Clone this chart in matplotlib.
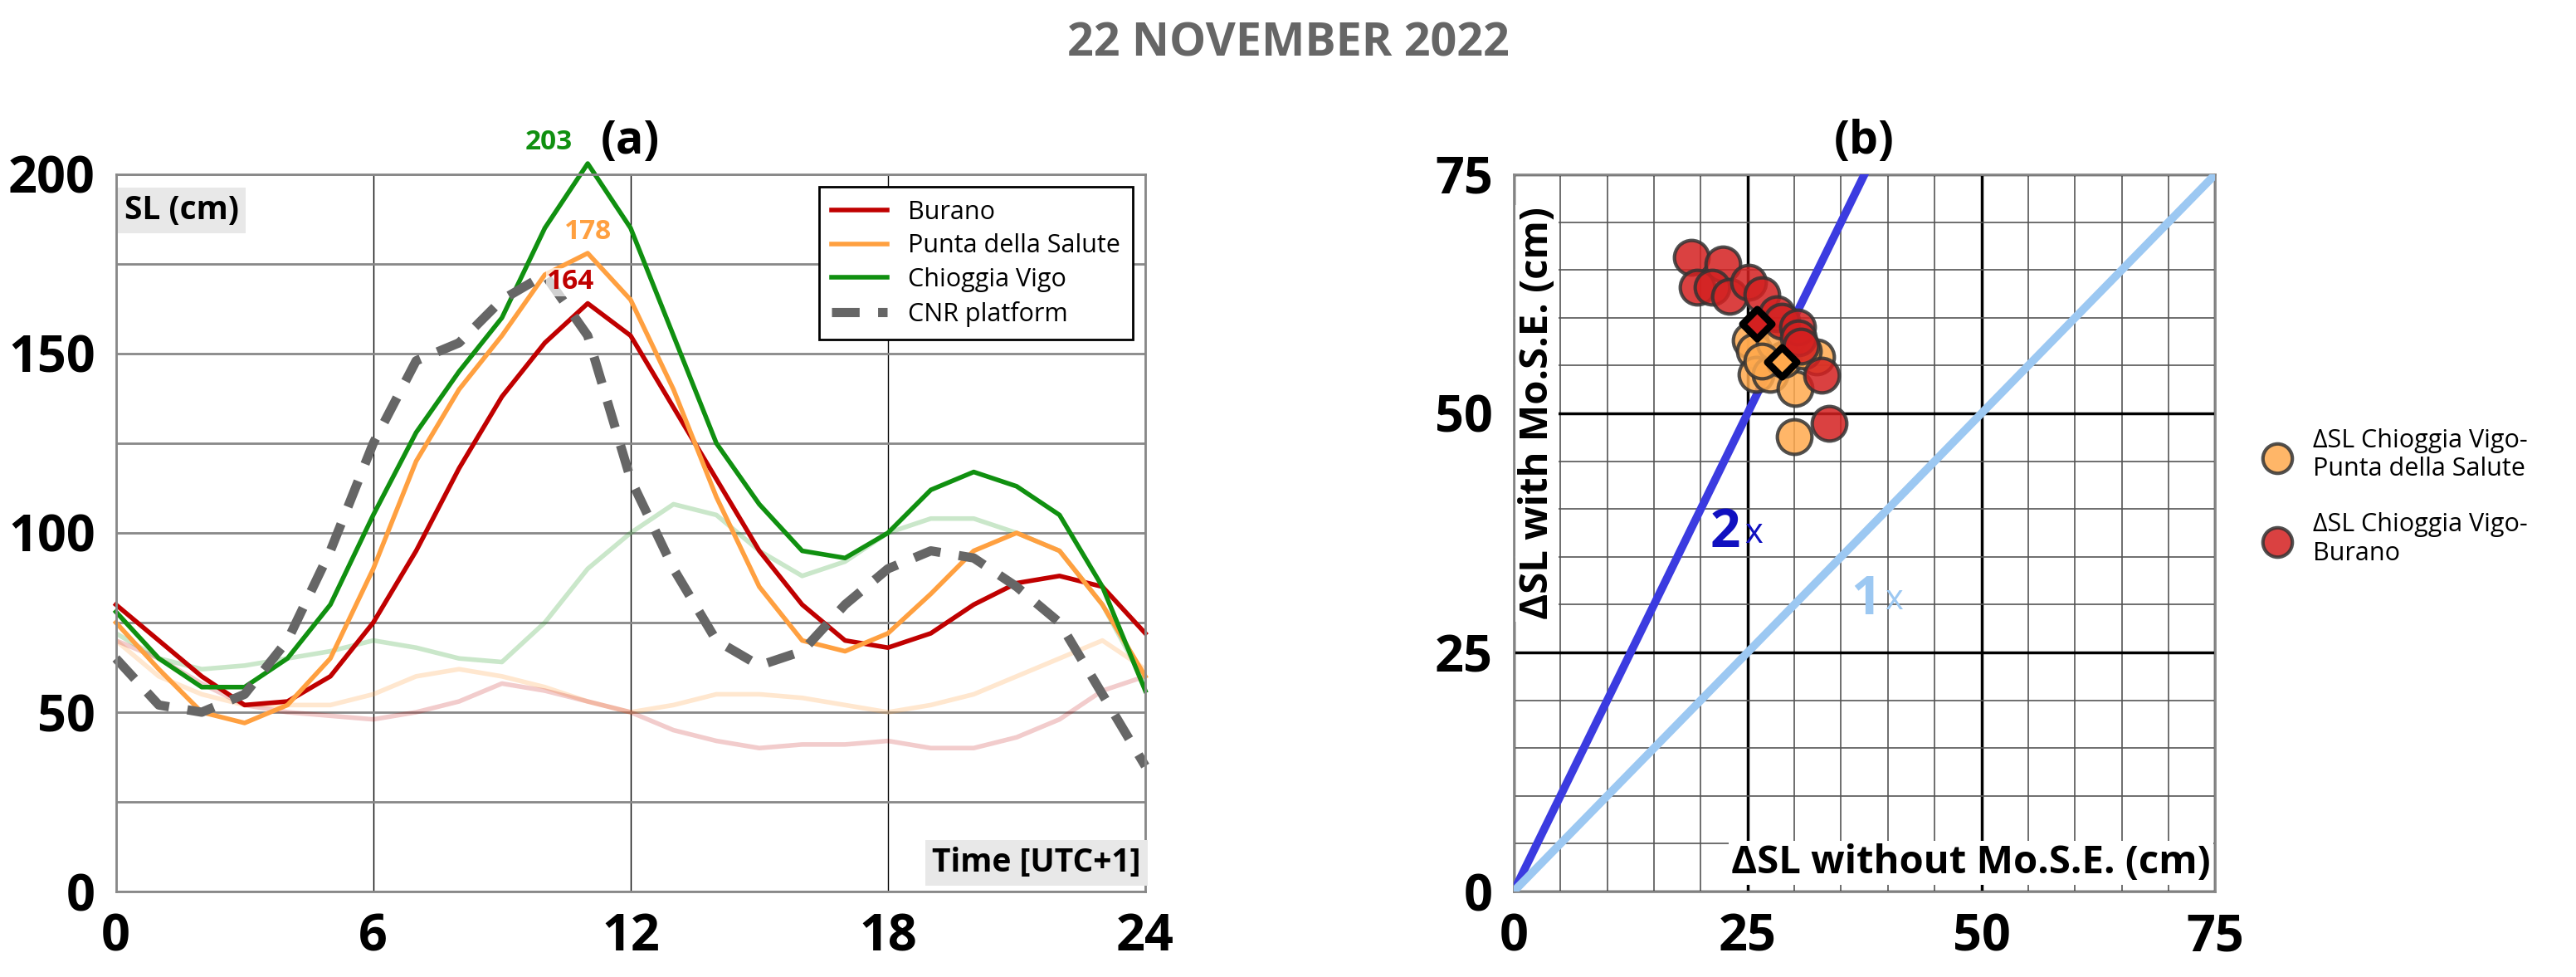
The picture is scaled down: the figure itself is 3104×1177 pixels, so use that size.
import numpy as np
import matplotlib.pyplot as plt

plt.rcParams['font.family'] = ['Open Sans', 'DejaVu Sans']

# ---- panel (a) data: sea level (cm) at hourly steps ----
hours = list(range(25))
burano = [80, 70, 60, 52, 53, 60, 75, 95, 118, 138, 153, 164, 155, 135, 115, 95, 80, 70, 68, 72, 80, 86, 88, 85, 72]
salute = [75, 62, 50, 47, 52, 65, 90, 120, 140, 155, 172, 178, 165, 140, 110, 85, 70, 67, 72, 83, 95, 100, 95, 80, 60]
chioggia = [78, 65, 57, 57, 65, 80, 105, 128, 145, 160, 185, 203, 185, 155, 125, 108, 95, 93, 100, 112, 117, 113, 105, 85, 56]
cnr = [65, 52, 50, 55, 70, 95, 125, 148, 153, 165, 172, 155, 115, 90, 70, 63, 67, 80, 90, 95, 93, 85, 75, 55, 35]
# faint (background) curves
chioggia_bg = [72, 65, 62, 63, 65, 67, 70, 68, 65, 64, 75, 90, 100, 108, 105, 95, 88, 92, 100, 104, 104, 100, 95, 80, 58]
salute_bg = [70, 60, 55, 52, 52, 52, 55, 60, 62, 60, 57, 53, 50, 52, 55, 55, 54, 52, 50, 52, 55, 60, 65, 70, 62]
burano_bg = [70, 65, 58, 52, 50, 49, 48, 50, 53, 58, 56, 53, 50, 45, 42, 40, 41, 41, 42, 40, 40, 43, 48, 56, 60]

# ---- panel (b) data ----
red_x = [19.0, 22.4, 19.6, 21.2, 23.1, 25.1, 26.5, 28.1, 28.7, 30.3, 30.4, 30.7, 32.9, 33.7]
red_y = [66.3, 65.6, 63.2, 63.2, 62.2, 63.7, 62.4, 60.4, 59.6, 59.0, 57.9, 57.0, 54.0, 49.0]
orange_x = [25.3, 25.7, 25.9, 27.4, 30.1, 32.4, 30.0, 28.8, 27.9, 26.5, 31.0]
orange_y = [57.6, 56.5, 54.1, 54.1, 52.6, 55.9, 47.6, 55.6, 57.4, 55.5, 56.5]
red_mean = (26.0, 59.4)
orange_mean = (28.7, 55.4)

fig = plt.figure(figsize=(31.04, 11.77), dpi=100)
fig.text(0.5, 0.955, '22 NOVEMBER 2022', ha='center', va='center', fontsize=40,
         fontweight='bold', color='#666666')

# ================= (a) =================
ax = fig.add_axes([0.045, 0.0875, 0.3996, 0.7341])
ax.plot(hours, chioggia_bg, color='#2ca02c', alpha=0.25, lw=4)
ax.plot(hours, salute_bg, color='#ffa040', alpha=0.25, lw=4)
ax.plot(hours, burano_bg, color='#c00000', alpha=0.2, lw=4)
l1, = ax.plot(hours, burano, color='#c00000', lw=4)
l2, = ax.plot(hours, salute, color='#ffa040', lw=4)
l3, = ax.plot(hours, chioggia, color='#109010', lw=4)
l4, = ax.plot(hours, cnr, color='#666666', lw=8, ls=(0, (3, 2)))
for ln in (l1, l2, l3, l4):
    ln.set_clip_on(False)
ax.set_xlim(0, 24)
ax.set_ylim(0, 200)
ax.set_xticks([0, 6, 12, 18, 24])
ax.set_yticks([0, 50, 100, 150, 200])
ax.set_yticks([25, 75, 125, 175], minor=True)
ax.tick_params(which='both', length=0, labelsize=44, pad=18)
for t in ax.get_xticklabels() + ax.get_yticklabels():
    t.set_fontweight('bold')
ax.grid(axis='x', color='black', lw=1)
ax.grid(axis='y', which='both', color='#888888', lw=2)
for s in ax.spines.values():
    s.set_color('#888888')
    s.set_linewidth(2)
ax.text(0.2, 190, 'SL (cm)', fontsize=28, fontweight='bold', va='center',
        bbox=dict(facecolor='#e8e8e8', edgecolor='none', pad=6))
ax.text(23.9, 8, 'Time [UTC+1]', fontsize=28, fontweight='bold', ha='right', va='center',
        bbox=dict(facecolor='#e8e8e8', edgecolor='none', pad=6))
ax.text(10.1, 207, '203', color='#109010', fontsize=24, fontweight='bold', ha='center')
ax.text(11.0, 182, '178', color='#ffa040', fontsize=24, fontweight='bold', ha='center')
ax.text(10.6, 168, '164', color='#c00000', fontsize=24, fontweight='bold', ha='center',
        bbox=dict(facecolor='white', edgecolor='none', pad=0.5, alpha=0.7))
leg = ax.legend([l1, l2, l3, l4], ['Burano', 'Punta della Salute', 'Chioggia Vigo', 'CNR platform'],
                loc='upper right', fontsize=22, fancybox=False, framealpha=1,
                edgecolor='black', handlelength=2.2, borderpad=0.5, labelspacing=0.35)
leg.get_frame().set_linewidth(2)
ax.set_title('(a)', fontsize=40, fontweight='bold', pad=18)

# ================= (b) =================
bx = fig.add_axes([0.5876, 0.0875, 0.2724, 0.7341])
bx.set_xlim(0, 75)
bx.set_ylim(0, 75)
bx.set_xticks([0, 25, 50, 75])
bx.set_yticks([0, 25, 50, 75])
bx.set_xticks(np.arange(5, 75, 5), minor=True)
bx.set_yticks(np.arange(5, 75, 5), minor=True)
bx.grid(which='minor', color='#555555', lw=1.2)
bx.grid(which='major', color='black', lw=2.5)
bx.tick_params(which='both', length=0, labelsize=44, pad=18)
for t in bx.get_xticklabels() + bx.get_yticklabels():
    t.set_fontweight('bold')
for s in bx.spines.values():
    s.set_color('#888888')
    s.set_linewidth(2)
xs = np.array([0, 75])
bx.plot(xs, 2 * xs, color='#3b3be0', lw=7, zorder=3)
bx.plot(xs, xs, color='#9cc8f2', lw=7, zorder=3)
bx.scatter(orange_x, orange_y, s=900, color='#ffa94d', edgecolor='#333333', lw=3, alpha=0.85, zorder=4,
           label='\u0394SL Chioggia Vigo-\nPunta della Salute')
bx.scatter(red_x, red_y, s=900, color='#d42020', edgecolor='#333333', lw=3, alpha=0.85, zorder=4,
           label='\u0394SL Chioggia Vigo-\nBurano')
bx.scatter([red_mean[0]], [red_mean[1]], s=330, marker='D', color='#d42020', edgecolor='black', lw=6, zorder=5)
bx.scatter([orange_mean[0]], [orange_mean[1]], s=330, marker='D', color='#ffa94d', edgecolor='black', lw=6, zorder=5)
bx.text(21, 36, '2', color='#1010c0', fontsize=46, fontweight='bold', zorder=6)
bx.text(24.7, 36.5, 'x', color='#1010c0', fontsize=30, zorder=6)
bx.text(36, 29, '1', color='#9cc8f2', fontsize=46, fontweight='bold', zorder=6)
bx.text(39.7, 29.5, 'x', color='#9cc8f2', fontsize=30, zorder=6)
bx.text(2.5, 50, '\u0394SL with Mo.S.E. (cm)', rotation=90, fontsize=34, fontweight='bold',
        va='center', ha='center', bbox=dict(facecolor='white', edgecolor='none', pad=2), zorder=6)
bx.text(74.5, 3, '\u0394SL without Mo.S.E. (cm)', fontsize=34, fontweight='bold',
        ha='right', va='center', bbox=dict(facecolor='white', edgecolor='none', pad=2), zorder=6)
bx.set_title('(b)', fontsize=40, fontweight='bold', pad=18)
bx.legend(loc='center left', bbox_to_anchor=(1.02, 0.55), fontsize=22, frameon=False,
          markerscale=0.85, labelspacing=1.2, handletextpad=0.4)

fig.savefig('out.png', dpi=100)
